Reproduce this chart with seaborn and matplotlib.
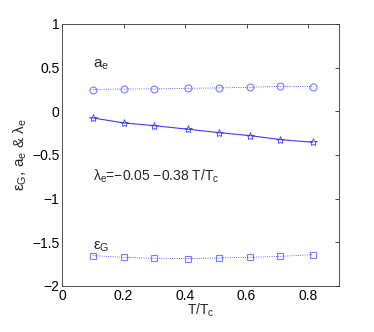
import matplotlib
matplotlib.use('Agg')
import matplotlib.pyplot as plt
import seaborn as sns
import pandas as pd

t_tc = [0.1, 0.2, 0.3, 0.41, 0.51, 0.61, 0.71, 0.815]
a_e = [0.248, 0.255, 0.255, 0.262, 0.267, 0.274, 0.285, 0.282]
lambda_e = [-0.077, -0.134, -0.165, -0.207, -0.245, -0.279, -0.325, -0.356]
eps_g = [-1.654, -1.673, -1.685, -1.688, -1.680, -1.673, -1.662, -1.643]

sns.set_style('white')
plt.rcParams['font.family'] = ['Liberation Sans', 'DejaVu Sans']
plt.rcParams['mathtext.fontset'] = 'custom'
plt.rcParams['mathtext.rm'] = 'Liberation Sans'
plt.rcParams['mathtext.it'] = 'Liberation Sans'
plt.rcParams['mathtext.default'] = 'regular'

df = pd.DataFrame({'T': t_tc, 'a': a_e, 'lam': lambda_e, 'eps': eps_g})

fig = plt.figure(figsize=(3.74, 3.32), dpi=100)
ax = fig.add_axes([0.166, 0.139, 0.740, 0.789])

blue = '#0000ff'
sns.lineplot(data=df, x='T', y='a', ax=ax, color=blue, linestyle=':', linewidth=0.6,
             marker='o', markersize=5, markerfacecolor='none', markeredgecolor='#5a5aff',
             markeredgewidth=0.8, alpha=0.8)
sns.lineplot(data=df, x='T', y='lam', ax=ax, color='#3a3aff', linestyle='-', linewidth=0.8,
             marker='*', markersize=6, markerfacecolor='none', markeredgecolor='#3a3aff',
             markeredgewidth=0.6)
sns.lineplot(data=df, x='T', y='eps', ax=ax, color=blue, linestyle=':', linewidth=0.6,
             marker='s', markersize=4, markerfacecolor='none', markeredgecolor='#5a5aff',
             markeredgewidth=0.8, alpha=0.8)

ax.text(0.1, 0.5, r'a$_e$', fontsize=11)
ax.text(0.1, -0.8, r'$\lambda_e$=$-$0.05 $-$0.38 T/T$_c$', fontsize=10)
ax.text(0.1, -1.58, r'$\varepsilon_G$', fontsize=11)

ax.set_xlim(0, 0.9)
ax.set_ylim(-2, 1)
ax.set_xticks([0, 0.2, 0.4, 0.6, 0.8])
ax.set_xticklabels(['0', '0.2', '0.4', '0.6', '0.8'])
ax.set_yticks([-2, -1.5, -1, -0.5, 0, 0.5, 1])
ax.set_yticklabels(['\u22122', '\u22121.5', '\u22121', '\u22120.5', '0', '0.5', '1'])
ax.tick_params(direction='in', length=3, width=0.5, top=True, right=True,
               labelsize=10, colors='black', pad=2)
for s in ax.spines.values():
    s.set_linewidth(0.6)
    s.set_color('#333333')
ax.set_xlabel(r'T/T$_c$', fontsize=10, labelpad=-1)
ax.set_ylabel(r'$\varepsilon_G$, a$_e$ & $\lambda_e$', fontsize=11, labelpad=2)

fig.savefig('out.png', dpi=100)
